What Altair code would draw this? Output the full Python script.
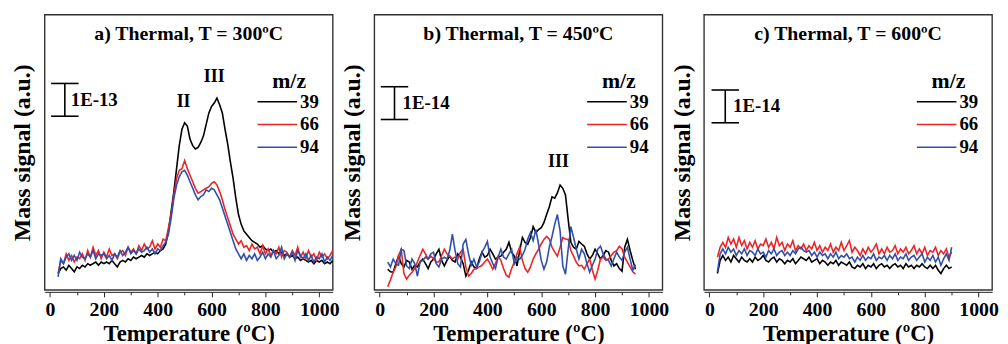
import altair as alt
import pandas as pd

FONT = "Liberation Serif"
MZ = ["39", "66", "94"]
COLORS = ["#000000", "#ee2424", "#2f4fae"]

# ---------------- panel a : T = 300 C (signal in 1E-14 units) ----------------
T_A = list(range(30, 1051, 10))
A_39 = [5, 6.5, 7, 6, 7.5, 6.5, 5.5, 7, 6.5, 7.5,
        7, 8, 7.5, 8, 8.5, 7.5, 8.5, 8, 8.5, 8,
        9, 8, 7, 8.5, 9, 8.5, 9.5, 9, 10, 9.5,
        10, 10.5, 10, 11, 10.5, 11, 11.5, 11, 12, 12.5,
        14, 18, 24, 30, 37, 44, 49, 51, 50, 46,
        44, 43, 43.5, 45, 47, 50.5, 54, 56, 57, 58.5,
        56.5, 54, 49, 44.5, 39, 34, 28, 23, 20, 18,
        17, 16, 15, 14.5, 14, 13, 13.5, 12.5, 12, 12.5,
        11.5, 12, 11, 11.5, 10.5, 11, 10, 10.5, 9.5, 10,
        9, 9.5, 9, 8.5, 9, 8, 9, 8.5, 9, 8,
        8.5, 8, 9]
A_66 = [5, 9, 8, 11, 9, 10.5, 8.5, 10, 9.5, 11,
        9, 12, 10, 13, 10.5, 12, 9.5, 11.5, 10, 12.5,
        10.5, 11, 9.5, 11.5, 12, 10.5, 13, 11.5, 12.5, 11,
        13.5, 12, 14, 12.5, 13, 15, 12.5, 14, 13, 15.5,
        15, 19, 23, 29, 34, 36.5, 37, 39.5, 37, 35,
        33, 31, 29.5, 30, 30.5, 31, 31.5, 32.5, 33, 32,
        30, 27.5, 24.5, 22, 19.5, 17, 15.5, 14, 15, 13,
        13.5, 12, 14, 12.5, 13, 11, 13.5, 11, 12.5, 10.5,
        12, 11, 13, 10, 12, 11.5, 10, 12, 10.5, 13,
        10, 11.5, 9.5, 12, 10, 11, 9, 11.5, 10, 11,
        9.5, 10.5, 12]
A_94 = [4, 9.5, 8, 10, 11, 9, 10.5, 9, 11.5, 10,
        9.5, 11, 10, 12, 9.5, 11, 10.5, 11, 9.5, 10.5,
        9, 11, 10, 12, 10.5, 11.5, 13, 11, 12, 11,
        12.5, 11.5, 12, 13, 11.5, 12.5, 11, 12.5, 12, 13.5,
        14.5, 17, 22, 28, 32, 34.5, 36, 36.5, 35, 33,
        31, 29, 27.5, 28.5, 29, 30.5, 30, 31, 30.5, 29,
        27.5, 25, 22.5, 20, 17.5, 15, 12.5, 11, 9.5, 11,
        9, 10.5, 9.5, 11, 9, 10, 11.5, 9.5, 11, 10,
        12, 9.5, 10.5, 13, 9.5, 11, 10, 11.5, 9, 12,
        10.5, 9.5, 11, 9, 10.5, 8.5, 10, 9.5, 11, 8.5,
        10, 9, 10.5]

# ---------------- panel b : T = 450 C (signal in 1E-15 units) ----------------
T_B = list(range(30, 951, 10))
B_39 = [6.3, 5.5, 5.4, 8, 10.3, 8, 7, 9, 8.5, 6.3,
        7.5, 7, 8.5, 9.4, 8, 6.5, 8.5, 9.4, 11, 12.4,
        9, 7.3, 9, 10.3, 9, 8.5, 11, 10, 8, 4.2,
        6, 8.5, 7, 6.5, 9.5, 11.5, 10, 10.5, 12.4, 11,
        9.4, 10, 10.3, 11.5, 12.4, 14.5, 11.5, 10.3, 7.3, 12,
        16, 14.5, 13.9, 16, 19.3, 17.5, 18.4, 19, 20.5, 23,
        25.4, 28.4, 28, 29.6, 32, 31, 29, 21.5, 14.5, 13,
        12.4, 14.8, 14, 13.3, 11, 9.4, 10.5, 12.4, 11, 9.4,
        10.5, 12, 11.5, 9, 7.3, 8, 6.5, 5.7, 13, 15.4,
        12, 9, 6.3]
B_66 = [1, 3, 5.4, 7, 10.5, 12.4, 5, 3.3, 4.5, 5.4,
        6.5, 8.5, 10.5, 12.4, 11, 9.4, 10.3, 9.5, 8.5, 8.5,
        10.5, 12.4, 11, 10.3, 9.5, 10, 9.4, 11.5, 12.4, 7,
        4.2, 5, 6.3, 6.5, 7, 7.5, 8.5, 9.4, 8, 6.3,
        8, 10.3, 9, 6.5, 4.5, 3.9, 6.5, 8.5, 11, 13,
        9, 6.5, 5.4, 7, 9.4, 11, 12.4, 14, 15.4, 16.3,
        15.5, 13, 11.5, 10.3, 13, 16, 15.5, 15.4, 12, 10.3,
        8.5, 7.3, 7.5, 6.3, 8, 9.4, 6, 3.3, 6, 9.4,
        10, 9, 9.4, 10.5, 11.5, 12, 13.3, 12.5, 10, 8.5,
        7, 5.5, 4.8]
B_94 = [8.5, 7, 9.4, 8, 7.5, 12.4, 12, 7.3, 6.5, 9.4,
        8, 4.2, 8.5, 9, 10, 9.4, 11, 11.5, 8, 7,
        9.4, 10, 9.4, 12, 17, 12, 8, 7, 14, 15.4,
        11, 7.5, 9.4, 7, 8.5, 11.5, 13, 14.8, 10, 8,
        6.5, 10, 12.4, 10, 9.4, 11, 12.4, 8, 10, 9.4,
        10.5, 12.4, 15.5, 17.5, 15, 18.4, 14, 9, 6.3, 8.5,
        13, 16.3, 20, 23, 18, 7.3, 4.8, 12.4, 19.3, 16,
        12.5, 9.4, 12.4, 11, 8, 5.4, 7.5, 9.4, 12.4, 13.3,
        11, 9.4, 9, 7.3, 9.5, 11.5, 10, 9, 11.5, 13,
        9.4, 6, 7.7]

# ---------------- panel c : T = 600 C (signal in 1E-15 units) ----------------
T_C = list(range(30, 901, 10))
C_39 = [5, 9, 10.5, 9, 10, 8.5, 10.5, 9.5, 8.5, 10,
        9, 8.5, 9.5, 8.5, 10, 9, 9.5, 10.5, 9, 8.5,
        9.5, 10, 8.5, 9.5, 9, 8, 9, 8.5, 9.5, 8,
        9, 10, 9.5, 9, 10, 8.5, 9, 9.5, 8, 9,
        8.5, 7.5, 8.5, 8, 9, 7.5, 8.5, 8, 7.5, 8.5,
        7, 6.5, 7.5, 7, 8, 6.5, 7.5, 7, 8, 6.5,
        7.5, 8, 7, 7.5, 6.5, 7.5, 8, 7, 7.5, 6.5,
        8, 7, 7.5, 6.5, 7.5, 7, 8, 7, 6.5, 7.5,
        6.5, 7.5, 6, 5, 6.5, 7.5, 6.5, 7]
C_66 = [10, 13, 14.5, 13, 16, 14, 15.5, 13, 16, 13.5,
        15, 12.5, 14.5, 13, 15, 12.5, 14, 13.5, 15.5, 13,
        14.5, 12.5, 16, 13.5, 14.5, 12, 14, 13, 15, 12,
        13.5, 12.5, 14, 12, 13.5, 12.5, 14.5, 12, 13.5, 11.5,
        13, 12, 14, 11.5, 13, 12, 14.5, 12, 13.5, 15,
        11.5, 13, 12, 10.5, 12.5, 11, 13, 11.5, 12.5, 14,
        11, 12.5, 11, 13, 11.5, 12, 13.5, 11, 12.5, 11.5,
        13, 11, 12, 13.5, 11, 12.5, 11, 13, 10.5, 12,
        11.5, 13, 10.5, 12, 11, 12.5, 10, 11.5]
C_94 = [5.5, 11, 12.5, 11, 13, 11.5, 12.5, 10.5, 12, 11,
        12.5, 10.5, 12, 11.5, 10.5, 12.5, 11, 11.5, 10, 12,
        11, 12.5, 10.5, 11.5, 12, 10.5, 11.5, 10.5, 12, 11,
        12.5, 13, 12, 11.5, 12, 10.5, 11.5, 10, 11.5, 10.5,
        11, 9.5, 11, 10, 11.5, 9.5, 10.5, 10, 11, 9.5,
        10, 8.5, 10, 9, 10.5, 9, 10, 9.5, 11, 9,
        10, 9.5, 10.5, 9, 10.5, 9.5, 11, 9, 10, 9.5,
        11, 9, 10, 10.5, 9, 10, 11, 8.5, 10, 9,
        10.5, 8.5, 10, 7.5, 9.5, 11, 9, 13]

TITLES = ["a) Thermal, T = 300ºC", "b) Thermal, T = 450ºC", "c) Thermal, T = 600ºC"]
BAR_LABELS = ["1E-13", "1E-14", "1E-14"]
# scale bar anchors (temperature, lower signal value); the bar spans 10 signal units
BAR_X = [55, 55, 59]
BAR_Y = [53, 52, 51]
BAR_TXT_X = [77, 85, 88]
NUMERALS = [
    {"t": ["II", "III"], "x": [496, 610], "y": [57.4, 65]},
    {"t": ["III"], "x": [664], "y": [39]},
    {"t": [], "x": [], "y": []},
]

W, H = 291, 278
XDOM = [-20, 1050]
YDOM = [0, 84]
XTITLE = "Temperature (ºC)"
YTITLE = "Mass signal (a.u.)"

XAXIS = alt.Axis(
    values=list(range(0, 1001, 100)), format="d",
    labelExpr="datum.value % 200 === 0 ? datum.label : ''",
    tickSize={"condition": {"test": "datum.value % 200 === 0", "value": 5}, "value": 3},
    labelFont=FONT, labelFontSize=20, labelFontWeight="bold", labelColor="black",
    titleFont=FONT, titleFontSize=23, titleFontWeight="bold", titleColor="black",
    grid=False, domainColor="#222222", tickColor="#222222", labelFlush=False,
    labelOverlap=False, labelPadding=3, titlePadding=3, offset=2,
)
YAXIS = alt.Axis(
    labels=False, ticks=False, domain=False, grid=False,
    titleFont=FONT, titleFontSize=24, titleFontWeight="bold", titleColor="black",
    titlePadding=10,
)


def X(field):
    return alt.X(field, scale=alt.Scale(domain=XDOM, nice=False, zero=False), axis=XAXIS, title=XTITLE)


def Y(field):
    return alt.Y(field, scale=alt.Scale(domain=YDOM, nice=False), axis=YAXIS, title=YTITLE)


def panel(i, T, s39, s66, s94):
    n = len(T)
    df = pd.DataFrame({"T": T * 3, "signal": s39 + s66 + s94,
                       "mz": ["39"] * n + ["66"] * n + ["94"] * n})
    lines = alt.Chart(df).mark_line(strokeWidth=1.6).encode(
        x=X("T:Q"), y=Y("signal:Q"),
        color=alt.Color("mz:N", scale=alt.Scale(domain=MZ, range=COLORS), legend=None),
    )
    layers = [lines]

    bar = pd.DataFrame({"bx": [BAR_X[i]], "b0": [BAR_Y[i]], "b1": [BAR_Y[i] + 10],
                        "cl": [BAR_X[i] - 51], "cr": [BAR_X[i] + 51],
                        "lx": [BAR_TXT_X[i]], "ly": [BAR_Y[i] + 5], "lab": [BAR_LABELS[i]]})
    base = alt.Chart(bar)
    layers.append(base.mark_rule(color="black", strokeWidth=1.6).encode(x=X("bx:Q"), y=Y("b0:Q"), y2="b1:Q"))
    layers.append(base.mark_rule(color="black", strokeWidth=1.6).encode(x=X("cl:Q"), x2="cr:Q", y=Y("b0:Q")))
    layers.append(base.mark_rule(color="black", strokeWidth=1.6).encode(x=X("cl:Q"), x2="cr:Q", y=Y("b1:Q")))
    layers.append(base.mark_text(font=FONT, fontSize=19, fontWeight="bold", align="left",
                                 baseline="middle", color="black").encode(
        x=X("lx:Q"), y=Y("ly:Q"), text="lab:N"))

    num = NUMERALS[i]
    if num["t"]:
        layers.append(alt.Chart(pd.DataFrame(num)).mark_text(
            font=FONT, fontSize=18, fontWeight="bold", baseline="middle", color="black").encode(
            x=X("x:Q"), y=Y("y:Q"), text="t:N"))

    # panel title
    layers.append(alt.Chart(pd.DataFrame({"t": [TITLES[i]]})).mark_text(
        font=FONT, fontSize=20, fontWeight="bold", baseline="middle", align="center", color="black").encode(
        x=alt.value(W / 2), y=alt.value(20), text="t:N"))

    # legend
    layers.append(alt.Chart(pd.DataFrame({"t": ["m/z"]})).mark_text(
        font=FONT, fontSize=22, fontWeight="bold", baseline="middle", align="center", color="black").encode(
        x=alt.value(247), y=alt.value(67), text="t:N"))
    leg_y = [88, 111, 134]
    for k, (m, c) in enumerate(zip(MZ, COLORS)):
        ld = alt.Chart(pd.DataFrame({"mz": [m]}))
        layers.append(ld.mark_rule(color=c, strokeWidth=1.6).encode(
            x=alt.value(215), x2=alt.value(255), y=alt.value(leg_y[k])))
        layers.append(ld.mark_text(font=FONT, fontSize=19, fontWeight="bold", align="left",
                                   baseline="middle", color="black").encode(
            x=alt.value(258), y=alt.value(leg_y[k]), text="mz:N"))

    return alt.layer(*layers).properties(width=W, height=H)


chart = alt.hconcat(
    panel(0, T_A, A_39, A_66, A_94),
    panel(1, T_B, B_39, B_66, B_94),
    panel(2, T_C, C_39, C_66, C_94),
    spacing=42, bounds="flush",
).properties(
    padding={"left": 2, "top": 4, "right": 0, "bottom": 0},
    background="white",
).configure_view(stroke="#333333", strokeWidth=1.4)

chart.save("out.html", embed_options={"renderer": "svg", "actions": False})
